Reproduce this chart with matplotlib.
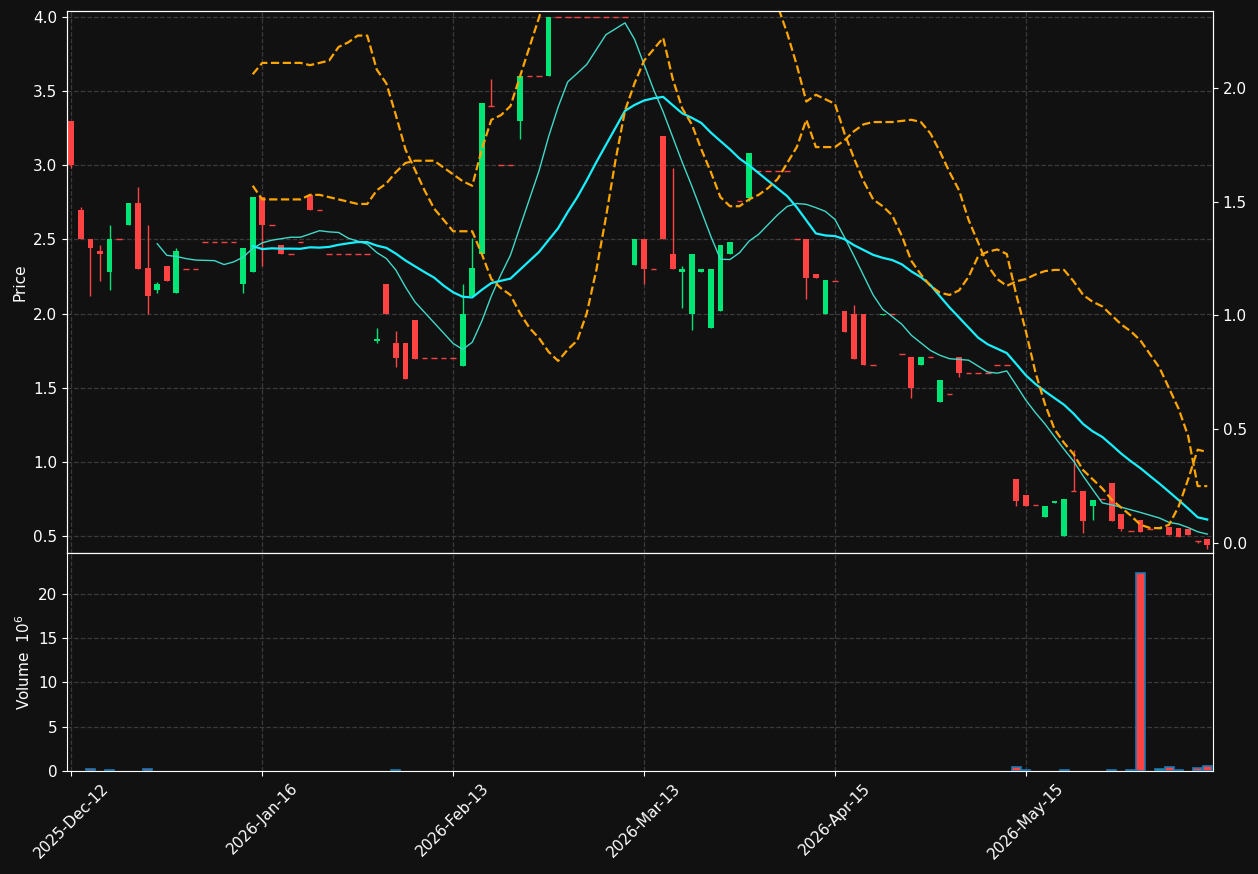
import numpy as np
import pandas as pd
import matplotlib
matplotlib.use('Agg')
import matplotlib.pyplot as plt

BG    = '#111111'
GRID  = '#3a3a3a'
UP    = '#00e676'
DOWN  = '#ff4242'
MA10C = '#40d8c8'
MA20C = '#18f0ff'
BAND  = '#ffa500'
TEXT  = '#ffffff'

# ---- data ----
opens = [3.30, 2.70, 2.50, 2.42, 2.28, 2.50, 2.60, 2.745, 2.31, 2.16,
         2.32, 2.14, 2.30, 2.30, 2.48, 2.48, 2.48, 2.48, 2.20, 2.28,
         2.785, 2.60, 2.46, 2.40, 2.48, 2.80, 2.70, 2.40, 2.40, 2.40,
         2.40, 2.40, 1.815, 2.20, 1.80, 1.80, 1.955, 1.70, 1.70, 1.70,
         1.70, 1.645, 2.12, 2.40, 3.40, 3.00, 3.00, 3.30, 3.60, 3.60,
         3.60, 4.00, 4.00, 4.00, 4.00, 4.00, 4.00, 4.00, 4.00, 2.33,
         2.50, 2.30, 3.20, 2.40, 2.28, 2.00, 2.28, 1.90, 2.02, 2.40,
         2.76, 2.78, 2.96, 2.96, 2.96, 2.96, 2.50, 2.50, 2.265, 2.00,
         2.22, 2.02, 2.00, 2.00, 1.65, 1.99, 2.00, 1.725, 1.71, 1.65,
         1.707, 1.40, 1.46, 1.71, 1.60, 1.60, 1.60, 1.65, 1.65, 0.884,
         0.776, 0.71, 0.625, 0.72, 0.50, 0.80, 0.80, 0.70, 0.75, 0.857,
         0.65, 0.535, 0.61, 0.547, 0.545, 0.56, 0.555, 0.545, 0.465, 0.48]
highs = [3.30, 2.72, 2.50, 2.46, 2.60, 2.50, 2.745, 2.85, 2.60, 2.21,
         2.32, 2.44, 2.30, 2.30, 2.48, 2.48, 2.48, 2.48, 2.44, 2.785,
         2.785, 2.60, 2.46, 2.40, 2.48, 2.80, 2.70, 2.40, 2.40, 2.40,
         2.40, 2.40, 1.90, 2.20, 1.88, 1.80, 1.955, 1.70, 1.70, 1.70,
         1.70, 2.20, 2.51, 3.42, 3.58, 3.00, 3.00, 3.60, 3.60, 3.60,
         4.00, 4.00, 4.00, 4.00, 4.00, 4.00, 4.00, 4.00, 4.00, 2.50,
         2.50, 2.30, 3.20, 2.98, 2.32, 2.40, 2.30, 2.30, 2.46, 2.48,
         2.76, 3.08, 2.96, 2.96, 2.96, 2.96, 2.50, 2.50, 2.265, 2.225,
         2.22, 2.02, 2.06, 2.00, 1.65, 2.00, 2.00, 1.725, 1.71, 1.71,
         1.707, 1.55, 1.46, 1.71, 1.60, 1.60, 1.60, 1.65, 1.65, 0.884,
         0.776, 0.71, 0.70, 0.736, 0.75, 1.08, 0.80, 0.74, 0.75, 0.857,
         0.65, 0.535, 0.61, 0.547, 0.56, 0.56, 0.555, 0.545, 0.465, 0.48]
lows = [2.98, 2.50, 2.12, 2.22, 2.16, 2.50, 2.60, 2.30, 2.00, 2.14,
        2.22, 2.14, 2.30, 2.30, 2.48, 2.48, 2.48, 2.48, 2.14, 2.28,
        2.32, 2.60, 2.40, 2.40, 2.48, 2.70, 2.70, 2.40, 2.40, 2.40,
        2.40, 2.40, 1.80, 2.00, 1.64, 1.56, 1.69, 1.70, 1.70, 1.70,
        1.70, 1.645, 2.12, 2.40, 3.40, 3.00, 3.00, 3.18, 3.60, 3.60,
        3.60, 4.00, 4.00, 4.00, 4.00, 4.00, 4.00, 4.00, 4.00, 2.33,
        2.20, 2.30, 2.50, 2.30, 2.04, 1.89, 2.28, 1.90, 2.02, 2.40,
        2.76, 2.76, 2.96, 2.96, 2.96, 2.96, 2.50, 2.10, 2.24, 2.00,
        2.22, 1.875, 1.69, 1.65, 1.65, 1.99, 2.00, 1.725, 1.43, 1.65,
        1.707, 1.40, 1.46, 1.57, 1.60, 1.60, 1.60, 1.65, 1.65, 0.70,
        0.705, 0.71, 0.625, 0.72, 0.50, 0.80, 0.52, 0.61, 0.75, 0.60,
        0.53, 0.535, 0.525, 0.547, 0.545, 0.505, 0.49, 0.505, 0.45, 0.415]
closes = [3.00, 2.50, 2.44, 2.40, 2.50, 2.50, 2.745, 2.30, 2.12, 2.20,
          2.22, 2.42, 2.30, 2.30, 2.48, 2.48, 2.48, 2.48, 2.44, 2.785,
          2.60, 2.60, 2.40, 2.40, 2.48, 2.70, 2.70, 2.40, 2.40, 2.40,
          2.40, 2.40, 1.83, 2.00, 1.70, 1.56, 1.69, 1.70, 1.70, 1.70,
          1.70, 2.00, 2.31, 3.42, 3.40, 3.00, 3.00, 3.60, 3.60, 3.60,
          4.00, 4.00, 4.00, 4.00, 4.00, 4.00, 4.00, 4.00, 4.00, 2.50,
          2.30, 2.30, 2.50, 2.30, 2.30, 2.40, 2.30, 2.30, 2.46, 2.48,
          2.76, 3.08, 2.96, 2.96, 2.96, 2.96, 2.50, 2.24, 2.24, 2.225,
          2.22, 1.875, 1.69, 1.65, 1.65, 2.00, 2.00, 1.725, 1.50, 1.71,
          1.707, 1.55, 1.46, 1.60, 1.60, 1.60, 1.60, 1.65, 1.65, 0.738,
          0.705, 0.71, 0.70, 0.736, 0.75, 0.80, 0.60, 0.74, 0.75, 0.60,
          0.55, 0.535, 0.525, 0.547, 0.56, 0.505, 0.49, 0.505, 0.465, 0.44]

# volume in millions, non-zero bars only
vol_bars = [2, 4, 8, 34, 99, 100, 104, 109, 111, 112, 114, 115, 116, 118, 119]
vol_vals = [0.25, 0.1, 0.25, 0.1, 0.45, 0.1, 0.1, 0.1, 0.1, 22.3, 0.25, 0.45, 0.1, 0.35, 0.55]

# dashed band lines on the secondary axis, starting at bar 19
band_start = 19
band_a = [2.06, 2.11, 2.11, 2.11, 2.11, 2.11, 2.10, 2.11, 2.12, 2.18,
          2.20, 2.23, 2.23, 2.08, 2.02, 1.88, 1.73, 1.64, 1.55, 1.47,
          1.42, 1.37, 1.37, 1.37, 1.27, 1.16, 1.12, 1.09, 1.01, 0.945,
          0.90, 0.84, 0.80, 0.85, 0.89, 1.01, 1.20, 1.43, 1.68, 1.90,
          2.02, 2.12, 2.17, 2.22, 2.04, 1.91, 1.84, 1.73, 1.63, 1.52,
          1.48, 1.48, 1.51, 1.53, 1.56, 1.60, 1.67, 1.74, 1.86, 1.74,
          1.74, 1.74, 1.77, 1.81, 1.84, 1.85, 1.85, 1.85, 1.855, 1.86,
          1.85, 1.80, 1.72, 1.63, 1.55, 1.42, 1.32, 1.22, 1.16, 1.13,
          1.15, 1.16, 1.18, 1.195, 1.20, 1.20, 1.15, 1.09, 1.06, 1.04,
          1.00, 0.96, 0.93, 0.89, 0.83, 0.77, 0.68, 0.59, 0.47, 0.25, 0.25]
band_b = [1.57, 1.51, 1.51, 1.51, 1.51, 1.51, 1.53, 1.53, 1.52, 1.51,
          1.50, 1.49, 1.49, 1.55, 1.58, 1.63, 1.67, 1.68, 1.68, 1.68,
          1.65, 1.62, 1.59, 1.57, 1.73, 1.86, 1.88, 1.92, 2.05, 2.18,
          2.31, 2.45, 2.60, 2.75, 2.90, 3.00, 3.10, 3.15, 3.20, 3.20,
          3.20, 3.15, 3.10, 3.05, 3.00, 2.95, 2.90, 2.85, 2.80, 2.75,
          2.70, 2.65, 2.60, 2.50, 2.43, 2.36, 2.24, 2.10, 1.94, 1.97,
          1.95, 1.93, 1.80, 1.69, 1.59, 1.51, 1.48, 1.44, 1.35, 1.24,
          1.18, 1.13, 1.10, 1.09, 1.11, 1.17, 1.26, 1.28, 1.29, 1.27,
          1.09, 0.93, 0.75, 0.61, 0.50, 0.44, 0.39, 0.32, 0.28, 0.24,
          0.19, 0.155, 0.12, 0.08, 0.066, 0.065, 0.08, 0.16, 0.28, 0.41, 0.40]

tick_labels = ['2025-Dec-12', '2026-Jan-16', '2026-Feb-13',
               '2026-Mar-13', '2026-Apr-15', '2026-May-15']

# ---- plot ----
plt.rcParams.update({
    'figure.facecolor': BG,
    'axes.facecolor': BG,
    'axes.edgecolor': TEXT,
    'axes.labelcolor': TEXT,
    'xtick.color': TEXT,
    'ytick.color': TEXT,
    'text.color': TEXT,
    'font.size': 11,
})

df = pd.DataFrame({'o': opens, 'h': highs, 'l': lows, 'c': closes})
n = len(df)
x = np.arange(n)
ma10 = df['c'].rolling(10).mean()
ma20 = df['c'].rolling(20).mean()
up = df['c'] > df['o']
colors = np.where(up, UP, DOWN)

fig = plt.figure(figsize=(12.58, 8.74), dpi=100)
ax = fig.add_axes([0.0533, 0.3673, 0.9109, 0.6201])
axv = fig.add_axes([0.0533, 0.1178, 0.9109, 0.2495], sharex=ax)
ax2 = ax.twinx()

for a in (ax, axv):
    a.grid(True, color=GRID, linestyle='--', linewidth=0.9)
    a.set_axisbelow(True)

ax.vlines(x, df['l'], df['h'], colors=colors, linewidth=1, zorder=2)
body = (df['c'] - df['o']).values
flat = np.abs(body) < 1e-9
ax.bar(x[~flat], body[~flat], bottom=df['o'].values[~flat], width=0.6,
       color=colors[~flat], linewidth=0, zorder=3)
ax.hlines(df['c'].values[flat], x[flat] - 0.3, x[flat] + 0.3,
          colors=colors[flat], linewidth=1, zorder=3)
ax.plot(x, ma10, color=MA10C, linewidth=1, zorder=4)
ax.plot(x, ma20, color=MA20C, linewidth=1.6, zorder=4)

xb = np.arange(band_start, band_start + len(band_a))
ax2.plot(xb, band_a, color=BAND, linestyle='--', linewidth=1.6)
ax2.plot(xb, band_b, color=BAND, linestyle='--', linewidth=1.6)
ax2.set_ylim(-0.044, 2.338)
ax2.set_yticks([0.0, 0.5, 1.0, 1.5, 2.0])

ax.set_ylim(0.385, 4.04)
ax.set_yticks([0.5, 1.0, 1.5, 2.0, 2.5, 3.0, 3.5, 4.0])
ax.set_ylabel('Price')
ax.set_xlim(-0.45, 119.6)
ax.tick_params(axis='x', labelbottom=False, length=0)

vcol = [colors[i] for i in vol_bars]
axv.bar(vol_bars, vol_vals, width=0.95, color=vcol, edgecolor='#1f77b4',
        linewidth=1.2, zorder=3)
axv.set_ylim(0, 24.6)
axv.set_yticks([0, 5, 10, 15, 20])
axv.set_ylabel('Volume  $10^6$')
axv.set_xticks(np.arange(0, 101, 20))
axv.set_xticklabels(tick_labels, rotation=45, ha='center')

fig.savefig('out.png', dpi=100, facecolor=BG)
